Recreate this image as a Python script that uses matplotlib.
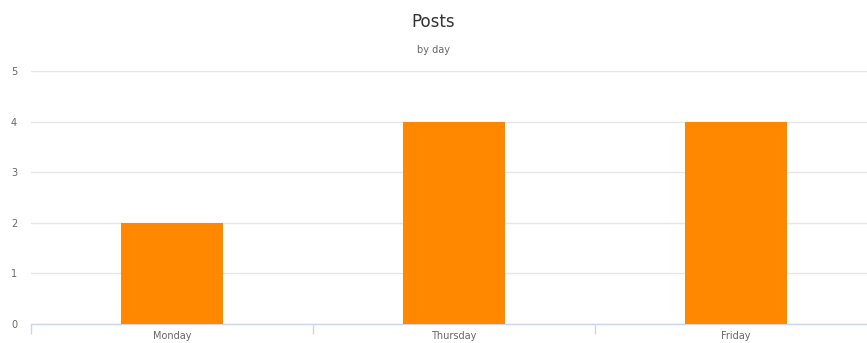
import matplotlib
matplotlib.use("Agg")
import matplotlib.pyplot as plt
import numpy as np

days = ["Monday", "Thursday", "Friday"]
posts = [2, 4, 4]
y_ticks = [0, 1, 2, 3, 4, 5]

plt.rcParams['font.family'] = ['DejaVu Sans']

fig = plt.figure(figsize=(8.67, 3.43), dpi=100)
ax = fig.add_axes([31 / 867, 19 / 343, 846 / 867, 253 / 343])

x = np.arange(len(days))
ax.bar(x, posts, width=0.36, color="#ff8800", zorder=3)

ax.set_xlim(-0.5, len(days) - 0.5)
ax.set_ylim(0, 5)
ax.set_yticks(y_ticks)
ax.set_yticklabels([str(v) for v in y_ticks])
ax.yaxis.grid(True, color="#e6e6e6", linewidth=1, zorder=0)
ax.tick_params(axis="y", length=0, pad=10, labelsize=7, labelcolor="#666666")

# category labels centered, tick marks on category boundaries
ax.set_xticks(x)
ax.set_xticklabels(days)
ax.tick_params(axis="x", which="major", length=0, pad=5, labelsize=7, labelcolor="#666666")
ax.set_xticks(np.arange(len(days) + 1) - 0.5, minor=True)
ax.tick_params(axis="x", which="minor", length=7, width=1, color="#ccd6eb", direction="out")

for side in ["top", "right", "left"]:
    ax.spines[side].set_visible(False)
ax.spines["bottom"].set_color("#ccd6eb")
ax.spines["bottom"].set_linewidth(1)

fig.text(0.5, 1 - 22 / 343, "Posts", ha="center", va="center", fontsize=12, color="#333333")
fig.text(0.5, 1 - 50 / 343, "by day", ha="center", va="center", fontsize=7, color="#666666")

fig.savefig("out.png", dpi=100)
